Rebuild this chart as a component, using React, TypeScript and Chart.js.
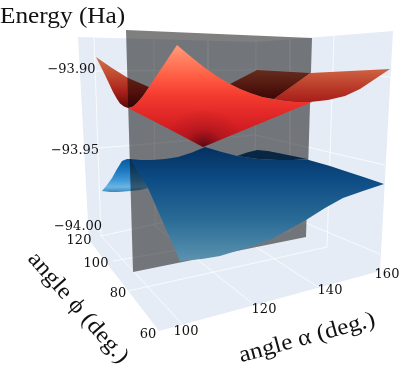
import React, { useEffect, useRef } from "react";
import { Chart, registerables } from "chart.js";

Chart.register(...registerables);

const W = 415;
const H = 369;

// Scene walls and floor (plot units of the hidden x/y axes)
const wallX = [78, 256, 393, 380, 159, 89];
const wallY = [37, 42, 31, 271, 331, 240];

// Grid lines of the 3D scene
const gridLinesXY: number[][] = [
  [94, 37, 101, 236],
  [154, 40, 155, 226],
  [208, 41, 208, 216],
  [256, 42, 255, 213],
  [290, 39, 290, 231],
  [334, 36, 327, 247],
  [95, 71, 255, 70, 390, 77],
  [99, 148, 255, 135, 385, 165],
  [101, 236, 255, 202, 380, 254],
  [101, 236, 183, 325],
  [155, 226, 252, 303],
  [208, 216, 318, 287],
  [113, 261, 290, 231],
  [128, 291, 327, 247],
];

// Slice plane at phi = 90
const planeX = [126, 312, 306, 133];
const planeY = [30, 38, 237, 272];

// Upper surface
const redBackLeftX = [96, 112, 128, 149, 143, 137, 133, 128, 124, 120, 117, 113, 105];
const redBackLeftY = [57, 68, 78, 87, 96, 103, 106.5, 108, 106.5, 103.5, 99, 92, 75];
const redBackRightX = [257, 311, 274, 262, 250, 240, 230];
const redBackRightY = [70, 73, 99, 97, 93, 89, 84];
const redFlapX = [274, 310, 390, 375, 360, 345, 328, 310, 295, 285];
const redFlapY = [99, 73, 69, 79, 89, 96, 100, 102, 102, 101];
const redMainX = [177, 190, 205, 218, 230, 240, 250, 262, 274, 285, 295, 312, 203, 167, 128, 133, 137, 143, 149];
const redMainY = [45, 56, 68, 77, 84, 89, 93, 97, 99.5, 101, 102, 102, 147, 128, 108, 106.5, 103, 96, 87];

// Lower surface
const blueFlapX = [102, 107, 112, 117, 122, 127, 131, 148, 140, 130, 118, 110];
const blueFlapY = [191, 185, 178, 169, 161, 159, 159, 188, 190, 191, 192, 192];
const blueBackX = [237, 247, 257, 268, 278, 293, 307, 293, 278, 258];
const blueBackY = [156, 152.5, 150, 151, 153, 156, 159, 160, 160, 159];
const blueMainX = [130, 141, 152, 165, 178, 192, 205, 220, 237, 258, 278, 295, 307, 330, 345, 365, 384, 363, 343, 325, 306, 288, 270, 247, 233, 220, 202, 190, 180, 148];
const blueMainY = [159, 160, 160, 159, 157, 152.5, 147, 151.5, 156, 159, 160, 160, 159.5, 166, 171, 177.5, 184, 191, 198, 208, 220, 230, 240, 248, 252, 256, 259, 260, 261, 188];

// Texts
const energyTicks = ["\u221293.90", "\u221293.95", "\u221294.00"];
const energyTickX = [71.5, 75, 78];
const energyTickY = [70, 151, 227];
const phiTicks = ["120", "100", "80", "60"];
const phiTickX = [79, 96, 118, 148];
const phiTickY = [241, 264, 294, 335];
const alphaTicks = ["100", "120", "140", "160"];
const alphaTickX = [186, 264, 330, 387];
const alphaTickY = [332, 310, 291, 275];

type Stop = [number, string];
const xy = (xs: number[], ys: number[]) => xs.map((x, i) => ({ x, y: ys[i] }));

function linear(stops: Stop[]) {
  return (c: any) => {
    const chart = c.chart;
    if (!chart.chartArea) return "transparent";
    const y = chart.scales.y;
    const a = stops[0][0];
    const b = stops[stops.length - 1][0];
    const g = chart.ctx.createLinearGradient(0, y.getPixelForValue(a), 0, y.getPixelForValue(b));
    stops.forEach(([v, col]) => g.addColorStop((v - a) / (b - a), col));
    return g;
  };
}

function radial(cx: number, cy: number, r: number, stops: [number, string][]) {
  return (c: any) => {
    const chart = c.chart;
    if (!chart.chartArea) return "transparent";
    const px = chart.scales.x.getPixelForValue(cx);
    const py = chart.scales.y.getPixelForValue(cy);
    const g = chart.ctx.createRadialGradient(px, py, 0, px, py, r);
    stops.forEach(([v, col]) => g.addColorStop(v, col));
    return g;
  };
}

function patch(label: string, xs: number[], ys: number[], backgroundColor: any) {
  return {
    label,
    data: xy(xs, ys),
    showLine: true,
    fill: "shape",
    backgroundColor,
    borderWidth: 0,
    borderColor: "transparent",
    pointRadius: 0,
    tension: 0,
  };
}

function gridLine(i: number, flat: number[]) {
  const pts = [];
  for (let k = 0; k < flat.length; k += 2) pts.push({ x: flat[k], y: flat[k + 1] });
  return {
    label: "grid" + i,
    data: pts,
    showLine: true,
    fill: false,
    borderColor: "rgba(255,255,255,0.75)",
    borderWidth: 1,
    pointRadius: 0,
    tension: 0,
  };
}

const textPlugin = {
  id: "sceneText",
  afterDatasetsDraw(chart: any) {
    const { ctx, scales } = chart;
    const px = (v: number) => scales.x.getPixelForValue(v);
    const py = (v: number) => scales.y.getPixelForValue(v);
    const put = (t: string, x: number, y: number, font: string, rot = 0, sx = 1, align: CanvasTextAlign = "center", base: CanvasTextBaseline = "middle") => {
      ctx.save();
      ctx.translate(px(x), py(y));
      ctx.rotate((rot * Math.PI) / 180);
      ctx.scale(sx, 1);
      ctx.font = font;
      ctx.fillStyle = "#111";
      ctx.textAlign = align;
      ctx.textBaseline = base;
      ctx.fillText(t, 0, 0);
      ctx.restore();
    };
    const tickFont = '13px "DejaVu Serif"';
    energyTicks.forEach((t, i) => put(t, energyTickX[i], energyTickY[i], tickFont));
    phiTicks.forEach((t, i) => put(t, phiTickX[i], phiTickY[i], tickFont));
    alphaTicks.forEach((t, i) => put(t, alphaTickX[i], alphaTickY[i], tickFont));
    const titleFont = '23px "Liberation Serif"';
    put("Energy (Ha)", 0, 22.5, titleFont, 0, 1.1, "left", "alphabetic");
    put("angle \u03B1 (deg.)", 307, 338, titleFont, -15.3, 1.1);
    put("angle \u03D5 (deg.)", 78, 308, titleFont, 48.6, 1.1);
  },
};

export default function App() {
  const ref = useRef<HTMLCanvasElement>(null);
  useEffect(() => {
    const layers = [
      patch("walls", wallX, wallY, "#E5ECF6"),
      ...gridLinesXY.map((g, i) => gridLine(i, g)),
      patch("blue back", blueBackX, blueBackY, "#0f4f88"),
      patch(
        "blue flap",
        blueFlapX,
        blueFlapY,
        linear([
          [159, "#0a5aa0"],
          [170, "#1d76bc"],
          [180, "#3f97d6"],
          [187, "#6ab6e4"],
          [192, "#3f86b8"],
        ])
      ),
      patch(
        "red back left",
        redBackLeftX,
        redBackLeftY,
        linear([
          [57, "#d0704c"],
          [75, "#c04a30"],
          [92, "#a8201a"],
          [108, "#5a0a08"],
        ])
      ),
      patch(
        "red back right",
        redBackRightX,
        redBackRightY,
        linear([
          [70, "#c85a3c"],
          [85, "#a8301f"],
          [99, "#7a0f0a"],
        ])
      ),
      patch("plane", planeX, planeY, "rgba(0,0,0,0.5)"),
      patch(
        "blue main",
        blueMainX,
        blueMainY,
        linear([
          [147, "#04305f"],
          [180, "#0d4c85"],
          [220, "#2a6b96"],
          [261, "#5c93af"],
        ])
      ),
      patch(
        "red flap",
        redFlapX,
        redFlapY,
        linear([
          [69, "#cf6344"],
          [85, "#bc3f2c"],
          [102, "#a81c18"],
        ])
      ),
      patch(
        "red main",
        redMainX,
        redMainY,
        linear([
          [45, "#ff9c7c"],
          [62, "#ff7a5c"],
          [78, "#ff5a42"],
          [95, "#f43c30"],
          [112, "#e42a28"],
          [130, "#d01c22"],
          [147, "#c01820"],
        ])
      ),
      patch(
        "red apex",
        redMainX,
        redMainY,
        radial(204, 150, 42, [
          [0, "rgba(50,5,15,0.9)"],
          [0.2, "rgba(70,5,15,0.62)"],
          [0.5, "rgba(90,5,15,0.2)"],
          [1, "rgba(90,5,15,0)"],
        ])
      ),
    ];
    const n = layers.length;
    const chart = new Chart(ref.current as HTMLCanvasElement, {
      type: "scatter",
      data: { datasets: layers.map((d, i) => ({ ...d, order: n - i })) as any },
      options: {
        animation: false,
        responsive: false,
        devicePixelRatio: 1,
        layout: { padding: 0 },
        events: [],
        scales: {
          x: { type: "linear", min: 0, max: W, display: false },
          y: { type: "linear", min: 0, max: H, reverse: true, display: false },
        },
        plugins: { legend: { display: false }, tooltip: { enabled: false }, title: { display: false } },
      } as any,
      plugins: [textPlugin],
    });
    return () => chart.destroy();
  }, []);
  return (
    <div style={{ position: "absolute", left: 0, top: 0, width: W, height: H }}>
      <canvas ref={ref} width={W} height={H} style={{ display: "block" }} />
    </div>
  );
}
